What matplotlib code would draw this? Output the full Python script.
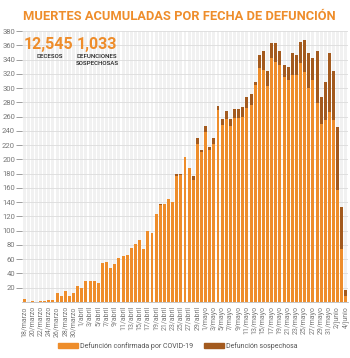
import matplotlib
matplotlib.use("Agg")
import matplotlib.pyplot as plt
from matplotlib.patches import Patch
import numpy as np

# day labels: 18/marzo .. 4/junio
months = [("marzo", 18, 31), ("abril", 1, 30), ("mayo", 1, 31), ("junio", 1, 4)]
dates = []
for m, d0, d1 in months:
    for d in range(d0, d1 + 1):
        dates.append("%d/%s" % (d, m))

# confirmed deaths per day
confirmed = [4, 0, 1, 0, 2, 2, 3, 3, 12, 9, 15, 9, 12, 23,
             20, 29, 30, 29, 27, 54, 56, 47, 53, 62, 65, 66, 76, 82, 87, 74,
             100, 97, 123, 136, 137, 145, 140, 177, 178, 203, 188, 171, 222, 210,
             239, 213, 222, 269, 248, 257, 247, 258, 258, 260, 272, 276, 304, 328,
             325, 303, 342, 337, 332, 315, 311, 318, 318, 335, 323, 300, 311, 279,
             250, 255, 267, 255, 157, 75, 8]
# suspected deaths per day
suspected = [0] * 33 + [2, 0, 0, 0, 2, 2, 0, 0, 6, 8, 3,
             8, 5, 8, 6, 8, 11, 9, 12, 13, 14, 16, 15, 4, 18,
             27, 21, 21, 26, 20, 18, 19, 31, 28, 30, 44, 49, 31, 73,
             38, 54, 82, 69, 89, 58, 9]

totals = [12545, 1033]

orange = "#EE8D2B"
brown = "#A35A1E"
plt.rcParams["font.family"] = ["Roboto", "DejaVu Sans"]

fig = plt.figure(figsize=(3.5, 3.58), dpi=100)
ax = fig.add_axes([22 / 350, 56 / 358, 326 / 350, 271 / 358])

x = np.arange(len(dates))
ax.bar(x, [380] * len(x), width=0.72, color="#F1F1F1", zorder=0)
for v in range(20, 381, 20):
    ax.axhline(v, color="#DCDCDC", lw=0.6, zorder=1)
ax.bar(x, confirmed, width=0.72, color=orange, zorder=2)
ax.bar(x, suspected, width=0.72, bottom=confirmed, color=brown, zorder=2)

ax.set_xlim(-0.5, len(x) - 0.5)
ax.set_ylim(0, 380)
ax.set_yticks(range(20, 381, 20))
ax.tick_params(axis="y", labelsize=5.5, colors="#777777", length=4, width=0.5, pad=1)
ax.set_xticks(x[::2])
ax.set_xticklabels(dates[::2], rotation=90, fontsize=5, color="#777777")
ax.tick_params(axis="x", length=0, pad=3)
for s in ["top", "right", "left"]:
    ax.spines[s].set_visible(False)
ax.spines["bottom"].set_color("#BBBBBB")
ax.spines["bottom"].set_linewidth(0.6)

fig.text(179 / 350, 1 - 16 / 358, "MUERTES ACUMULADAS POR FECHA DE DEFUNCIÓN", ha="center", va="center",
         fontsize=9.3, fontweight="bold", color=orange)
fig.text(24 / 350, 1 - 44 / 358, "{:,}".format(totals[0]), ha="left", va="center",
         fontsize=11.5, fontweight="bold", color=orange)
fig.text(77 / 350, 1 - 44 / 358, "{:,}".format(totals[1]), ha="left", va="center",
         fontsize=11.5, fontweight="bold", color=orange)
fig.text(50 / 350, 1 - 56 / 358, "DECESOS", ha="center", va="center", fontsize=4.4,
         color="#222222", fontweight="medium")
fig.text(97 / 350, 1 - 60 / 358, "DEFUNCIONES\nSOSPECHOSAS", ha="center", va="center",
         fontsize=4.4, color="#222222", fontweight="medium", linespacing=1.3)

handles = [Patch(color=orange, label="Defunción confirmada por COVID-19"),
           Patch(color=brown, label="Defunción sospechosa")]
fig.legend(handles=handles, loc="center", bbox_to_anchor=(178 / 350, 1 - 346 / 358), ncol=2,
           frameon=False, fontsize=5.0, handlelength=2.9, handleheight=0.9,
           columnspacing=1.5, handletextpad=0.3, labelcolor="#555555")

fig.savefig("out.png", dpi=100)
